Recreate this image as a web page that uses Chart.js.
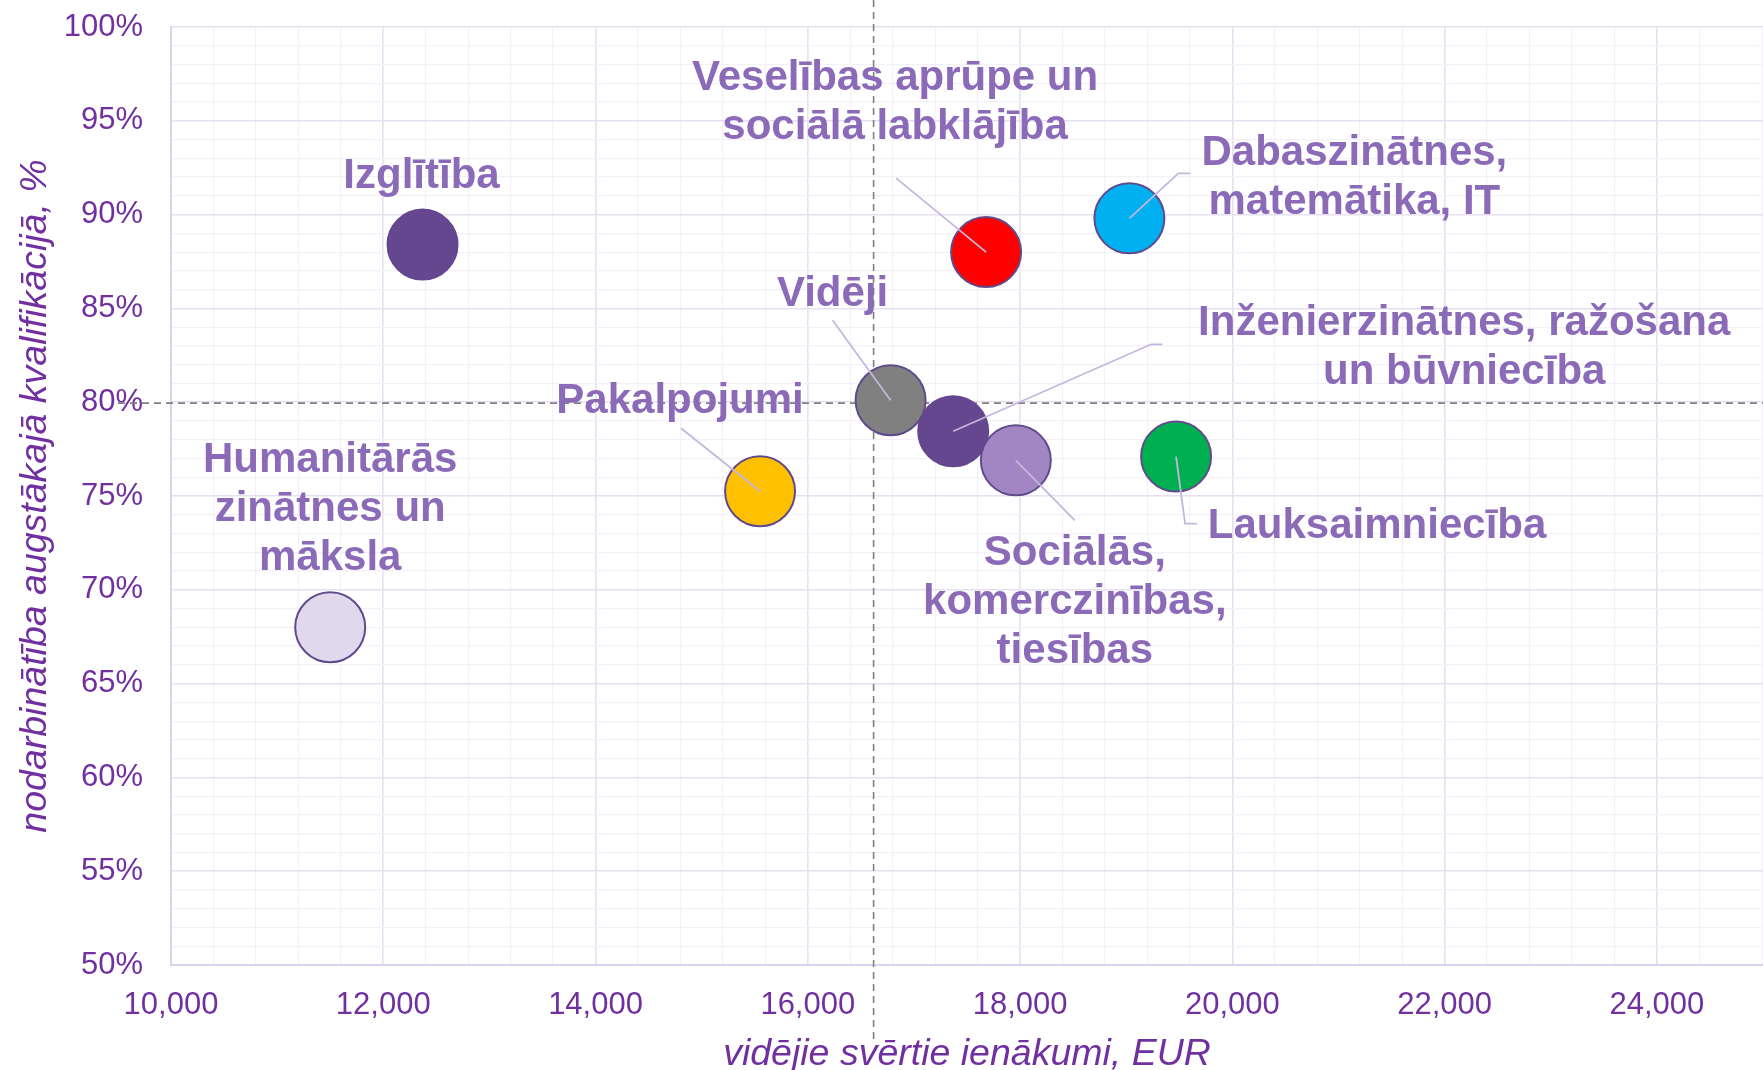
<!DOCTYPE html>
<html><head><meta charset="utf-8">
<script src="https://cdn.jsdelivr.net/npm/chart.js@4.4.0/dist/chart.umd.min.js"></script>
<style>html,body{margin:0;padding:0;background:#fff;overflow:hidden;} canvas{display:block;}</style>
</head><body>
<canvas id="c" width="1763" height="1070"></canvas>
<script>
// ---- DATA ----
const categories = ['Izglītība','Humanitārās zinātnes un māksla','Pakalpojumi','Veselības aprūpe un sociālā labklājība','Dabaszinātnes, matemātika, IT','Inženierzinātnes, ražošana un būvniecība','Vidēji','Sociālās, komerczinības, tiesības','Lauksaimniecība'];
const labelLines = [
  ['Izglītība'],
  ['Humanitārās','zinātnes un','māksla'],
  ['Pakalpojumi'],
  ['Veselības aprūpe un','sociālā labklājība'],
  ['Dabaszinātnes,','matemātika, IT'],
  ['Inženierzinātnes, ražošana','un būvniecība'],
  ['Vidēji'],
  ['Sociālās,','komerczinības,','tiesības'],
  ['Lauksaimniecība']
];
const incomeEUR     = [12370, 11500, 15550, 17680, 19030, 17370, 16780, 17960, 19470];
const employmentPct = [88.4, 68.0, 75.25, 88.0, 89.8, 78.45, 80.1, 76.9, 77.1];
const avgIncome = [16620];
const avgEmployment = [79.95];
const xTickValues = [10000,12000,14000,16000,18000,20000,22000,24000];
const yTickValues = [50,55,60,65,70,75,80,85,90,95,100];

// ---- STYLE ----
const fillColors = ['#654790','#e0d8ec','#ffc000','#ff0000','#00b0f0','#654790','#808080','#a286c4','#00b050'];
const borderColors = ['#654790','#5f4a8b','#5f4a8b','#5f4a8b','#5f4a8b','#654790','#5f4a8b','#5f4a8b','#5f4a8b'];
// label block offset from bubble centre (px): dx, dy of first line
const labelOffsets = [[-1,-68],[0,-167],[-80,-90],[-91,-174],[225,-65],[511,-108],[-58,-106],[59,93],[201,70]];
const leaderPaths = [null,null,[[-79,-63]],[[-90,-74]],[[49,-45],[61,-45]],[[198,-87],[209,-87]],[[-58,-80]],[[59,60]],[[9,67],[21,67]]];
const lineStep = 49;
const purple = '#7030a0';
const labelColor = '#8b6bb8';

const fmt = v => v.toLocaleString('en-US');

const overlay = {
  id: 'overlay',
  beforeDatasetsDraw(chart) {
    const {ctx, scales:{x, y}} = chart;
    ctx.save();
    ctx.strokeStyle = '#808080';
    ctx.lineWidth = 1.6;
    ctx.setLineDash([7,5]);
    const px = x.getPixelForValue(avgIncome[0]);
    ctx.beginPath(); ctx.moveTo(px, 0); ctx.lineTo(px, 1042); ctx.stroke();
    const py = y.getPixelForValue(avgEmployment[0]);
    ctx.beginPath(); ctx.moveTo(118, py); ctx.lineTo(chart.width, py); ctx.stroke();
    ctx.restore();
  },
  afterDatasetsDraw(chart) {
    const {ctx} = chart;
    const meta = chart.getDatasetMeta(0);
    ctx.save();
    ctx.strokeStyle = '#c4b6de';
    ctx.lineWidth = 1.8;
    meta.data.forEach((pt, i) => {
      const path = leaderPaths[i];
      if (!path) return;
      ctx.beginPath(); ctx.moveTo(pt.x, pt.y);
      path.forEach(p => ctx.lineTo(pt.x + p[0], pt.y + p[1]));
      ctx.stroke();
    });
    ctx.fillStyle = labelColor;
    ctx.font = 'bold 42px "Liberation Sans", Arial, sans-serif';
    ctx.textAlign = 'center';
    ctx.textBaseline = 'middle';
    meta.data.forEach((pt, i) => {
      const [dx, dy] = labelOffsets[i];
      labelLines[i].forEach((line, k) => {
        ctx.fillText(line, pt.x + dx, pt.y + dy + k * lineStep);
      });
    });
    ctx.restore();
  }
};

new Chart(document.getElementById('c'), {
  type: 'scatter',
  data: {
    datasets: [{
      label: 'Jomas',
      data: incomeEUR.map((v, i) => ({x: v, y: employmentPct[i]})),
      backgroundColor: fillColors,
      borderColor: borderColors,
      borderWidth: 2,
      pointRadius: 35,
      pointHoverRadius: 35
    }]
  },
  options: {
    responsive: false,
    animation: false,
    events: [],
    layout: {autoPadding: false, padding: {top: 27, right: 0, left: 0, bottom: 0}},
    plugins: {legend: {display: false}, tooltip: {enabled: false}},
    scales: {
      x: {
        type: 'linear', min: 10000, max: 25000,
        afterFit(s) { s.height = 105; s.paddingLeft = 0; s.paddingRight = 0; },
        border: {color: '#dcd3ea', width: 2},
        grid: {
          drawTicks: false,
          color: c => xTickValues.includes(c.tick.value) ? '#e6e0f0' : '#f3f0f8',
          lineWidth: c => xTickValues.includes(c.tick.value) ? 1.6 : 1.2
        },
        ticks: {
          stepSize: 400, autoSkip: false, maxRotation: 0, padding: 22,
          color: purple, font: {family: '"Liberation Sans", Arial, sans-serif', size: 31},
          callback: v => xTickValues.includes(v) ? fmt(v) : ''
        },
        title: {
          display: true, text: 'vidējie svērtie ienākumi, EUR', color: purple,
          font: {family: '"Liberation Sans", Arial, sans-serif', size: 37.5, style: 'italic', lineHeight: 0.8},
          padding: {top: 0, bottom: 0.5}
        }
      },
      y: {
        type: 'linear', min: 50, max: 100,
        afterFit(s) { s.width = 171; s.paddingTop = 0; s.paddingBottom = 0; },
        border: {color: '#dcd3ea', width: 2},
        grid: {
          drawTicks: false,
          color: c => yTickValues.includes(c.tick.value) ? '#e6e0f0' : '#f3f0f8',
          lineWidth: c => yTickValues.includes(c.tick.value) ? 1.6 : 1.2
        },
        ticks: {
          stepSize: 1, autoSkip: false, padding: 28,
          color: purple, font: {family: '"Liberation Sans", Arial, sans-serif', size: 31},
          callback: v => yTickValues.includes(v) ? v + '%' : ''
        },
        title: {
          display: true, text: 'nodarbinātība augstākajā kvalifikācijā, %', color: purple,
          font: {family: '"Liberation Sans", Arial, sans-serif', size: 37.5, style: 'italic', lineHeight: 0.8},
          padding: {top: 21, bottom: 0}
        }
      }
    }
  },
  plugins: [overlay]
});
</script>
</body></html>
